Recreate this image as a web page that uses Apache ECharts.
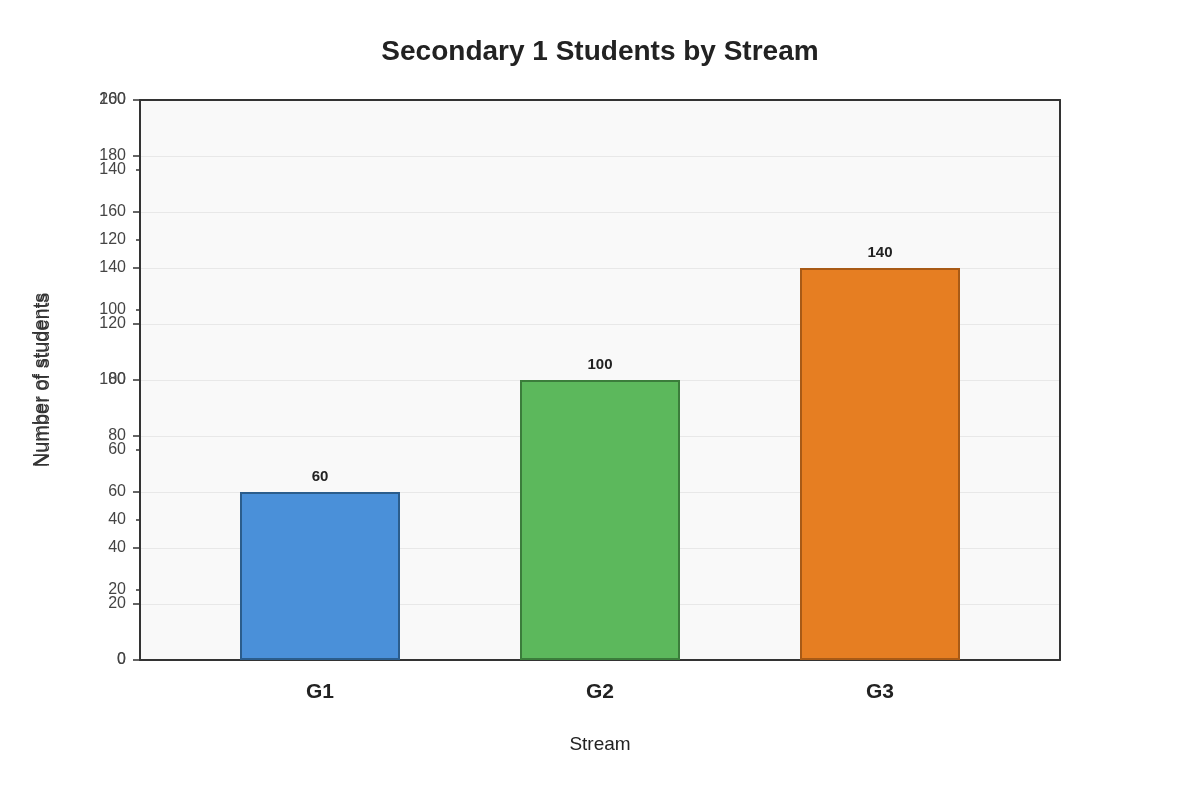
<!DOCTYPE html>
<html>
<head>
<meta charset="utf-8">
<script src="https://cdn.jsdelivr.net/npm/echarts@6/dist/echarts.min.js"></script>
<style>
  html, body { margin: 0; padding: 0; background: #fff; }
  #chart { width: 1200px; height: 800px; }
</style>
</head>
<body>
<div id="chart"></div>
<script>
// data
var streams = ['G1', 'G2', 'G3'];
var students = [60, 100, 140];
var barColors = ['#4a90d9', '#5cb85c', '#e67e22'];
var barBorders = ['#2b5d8c', '#3b7d3b', '#a85a16'];

var chart = echarts.init(document.getElementById('chart'));
var font = '"Liberation Sans", Arial, sans-serif';

// bars sit on a value axis so the centres land where the reference puts them
var pad = 9 / 14;
var barData = students.map(function (v, i) {
  return {
    value: [i, v],
    itemStyle: { color: barColors[i], borderColor: barBorders[i], borderWidth: 2 }
  };
});

var frameLine = { show: true, onZero: false, lineStyle: { color: '#333', width: 2 } };

var option = {
  animation: false,
  textStyle: { fontFamily: font },
  title: {
    text: 'Secondary 1 Students by Stream',
    left: 'center',
    top: 33,
    textStyle: { fontSize: 28, fontWeight: 'bold', color: '#222', fontFamily: font }
  },
  grid: {
    left: 140, right: 140, top: 100, bottom: 140,
    show: true,
    backgroundColor: '#f9f9f9',
    borderWidth: 0
  },
  xAxis: [{
    type: 'value',
    min: -pad,
    max: streams.length - 1 + pad,
    position: 'bottom',
    splitLine: { show: false },
    axisLine: frameLine,
    axisTick: { show: false },
    axisLabel: {
      customValues: [0, 1, 2],
      formatter: function (v) { return streams[Math.round(v)]; },
      fontSize: 21, fontWeight: 'bold', color: '#222', margin: 22
    },
    name: 'Stream',
    nameLocation: 'middle',
    nameGap: 75,
    nameTextStyle: { fontSize: 19, color: '#222' }
  }, {
    // top edge of the frame
    type: 'value',
    min: -pad,
    max: streams.length - 1 + pad,
    position: 'top',
    splitLine: { show: false },
    axisLine: frameLine,
    axisTick: { show: false },
    axisLabel: { show: false }
  }],
  yAxis: [{
    type: 'value',
    min: 0, max: 200, interval: 20,
    position: 'left',
    splitLine: { show: true, lineStyle: { color: '#e8e8e8', width: 1 } },
    axisLine: frameLine,
    axisTick: { show: true, length: 7, lineStyle: { color: '#333', width: 1.5 } },
    axisLabel: { fontSize: 16, color: '#444', margin: 14, padding: [4, 0, 0, 0] },
    name: 'Number of students',
    nameLocation: 'middle',
    nameGap: 89,
    nameTextStyle: { fontSize: 20, color: '#333' }
  }, {
    type: 'value',
    min: 0, max: 160, interval: 20,
    position: 'left',
    splitLine: { show: false },
    axisLine: { show: false, onZero: false },
    axisTick: { show: true, length: 4, lineStyle: { color: '#333', width: 1.5 } },
    axisLabel: { fontSize: 16, color: '#444', margin: 14, padding: [4, 0, 0, 0] },
    name: 'Number of students',
    nameLocation: 'middle',
    nameGap: 87,
    nameTextStyle: { fontSize: 20, color: '#333' }
  }, {
    // right edge of the frame
    type: 'value',
    min: 0, max: 200, interval: 20,
    position: 'right',
    splitLine: { show: false },
    axisLine: frameLine,
    axisTick: { show: false },
    axisLabel: { show: false }
  }],
  series: [{
    type: 'bar',
    xAxisIndex: 0,
    yAxisIndex: 0,
    barWidth: 160,
    data: barData,
    label: {
      show: true,
      position: 'top',
      distance: 8,
      formatter: function (p) { return p.value[1]; },
      fontSize: 15, fontWeight: 'bold', color: '#222'
    }
  }]
};

chart.setOption(option);
</script>
</body>
</html>
